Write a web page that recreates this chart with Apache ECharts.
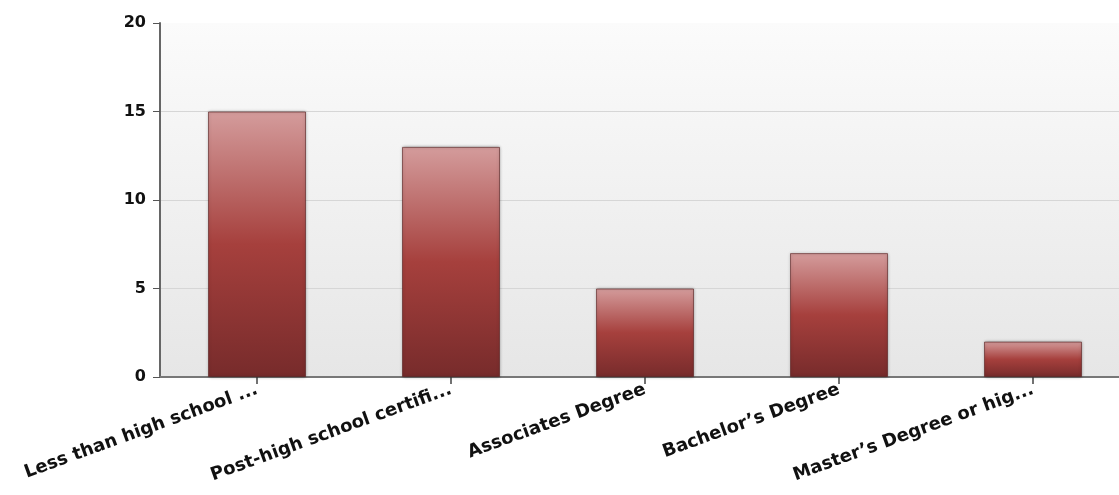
<!DOCTYPE html>
<html>
<head>
<meta charset="utf-8">
<script src="https://cdn.jsdelivr.net/npm/echarts@6/dist/echarts.min.js"></script>
<style>html,body{margin:0;padding:0;background:#fff;}#c{width:1119px;height:495px;}</style>
</head>
<body>
<div id="c"></div>
<script>
const categories = ["Less than high school ...", "Post-high school certifi...", "Associates Degree", "Bachelor\u2019s Degree", "Master\u2019s Degree or hig..."];
const values = [15, 13, 5, 7, 2];
const yTicks = { min: 0, max: 20, interval: 5 };

const chart = echarts.init(document.getElementById('c'), null, { renderer: 'canvas' });
chart.setOption({
  animation: false,
  grid: {
    left: 160, width: 970, top: 23, height: 354,
    outerBoundsMode: 'none', containLabel: false,
    show: true, borderWidth: 0,
    backgroundColor: { type: 'linear', x: 0, y: 0, x2: 0, y2: 1,
      colorStops: [{ offset: 0, color: '#fbfbfb' }, { offset: 1, color: '#e6e6e6' }] }
  },
  xAxis: {
    type: 'category', data: categories,
    axisLine: { lineStyle: { color: '#777', width: 2 } },
    axisTick: { show: true, interval: 0, alignWithLabel: true, length: 7, lineStyle: { color: '#444', width: 1.5 } },
    axisLabel: { rotate: 20, interval: 0, margin: 12, color: '#111',
      fontFamily: 'DejaVu Sans, Verdana, sans-serif', fontWeight: 'bold', fontSize: 18 }
  },
  yAxis: {
    type: 'value', min: yTicks.min, max: yTicks.max, interval: yTicks.interval,
    axisLine: { show: true, lineStyle: { color: '#666', width: 2 } },
    axisTick: { show: true, length: 7, lineStyle: { color: '#555' } },
    splitLine: { lineStyle: { color: ['#d6d6d6', '#d6d6d6', '#d6d6d6', '#d6d6d6', 'rgba(0,0,0,0)'], width: 1 } },
    axisLabel: { margin: 14, color: '#111', fontFamily: 'DejaVu Sans, Verdana, sans-serif',
      fontWeight: 'bold', fontSize: 16 }
  },
  series: [{
    type: 'bar', data: values, barWidth: 98,
    itemStyle: {
      color: { type: 'linear', x: 0, y: 0, x2: 0, y2: 1,
        colorStops: [
          { offset: 0, color: '#d49c9c' },
          { offset: 0.5, color: '#a6403d' },
          { offset: 1, color: '#772b2b' }
        ] },
      borderColor: 'rgba(90,30,30,0.6)', borderWidth: 1,
      shadowColor: 'rgba(0,0,0,0.35)', shadowBlur: 3
    }
  }]
});
</script>
</body>
</html>
